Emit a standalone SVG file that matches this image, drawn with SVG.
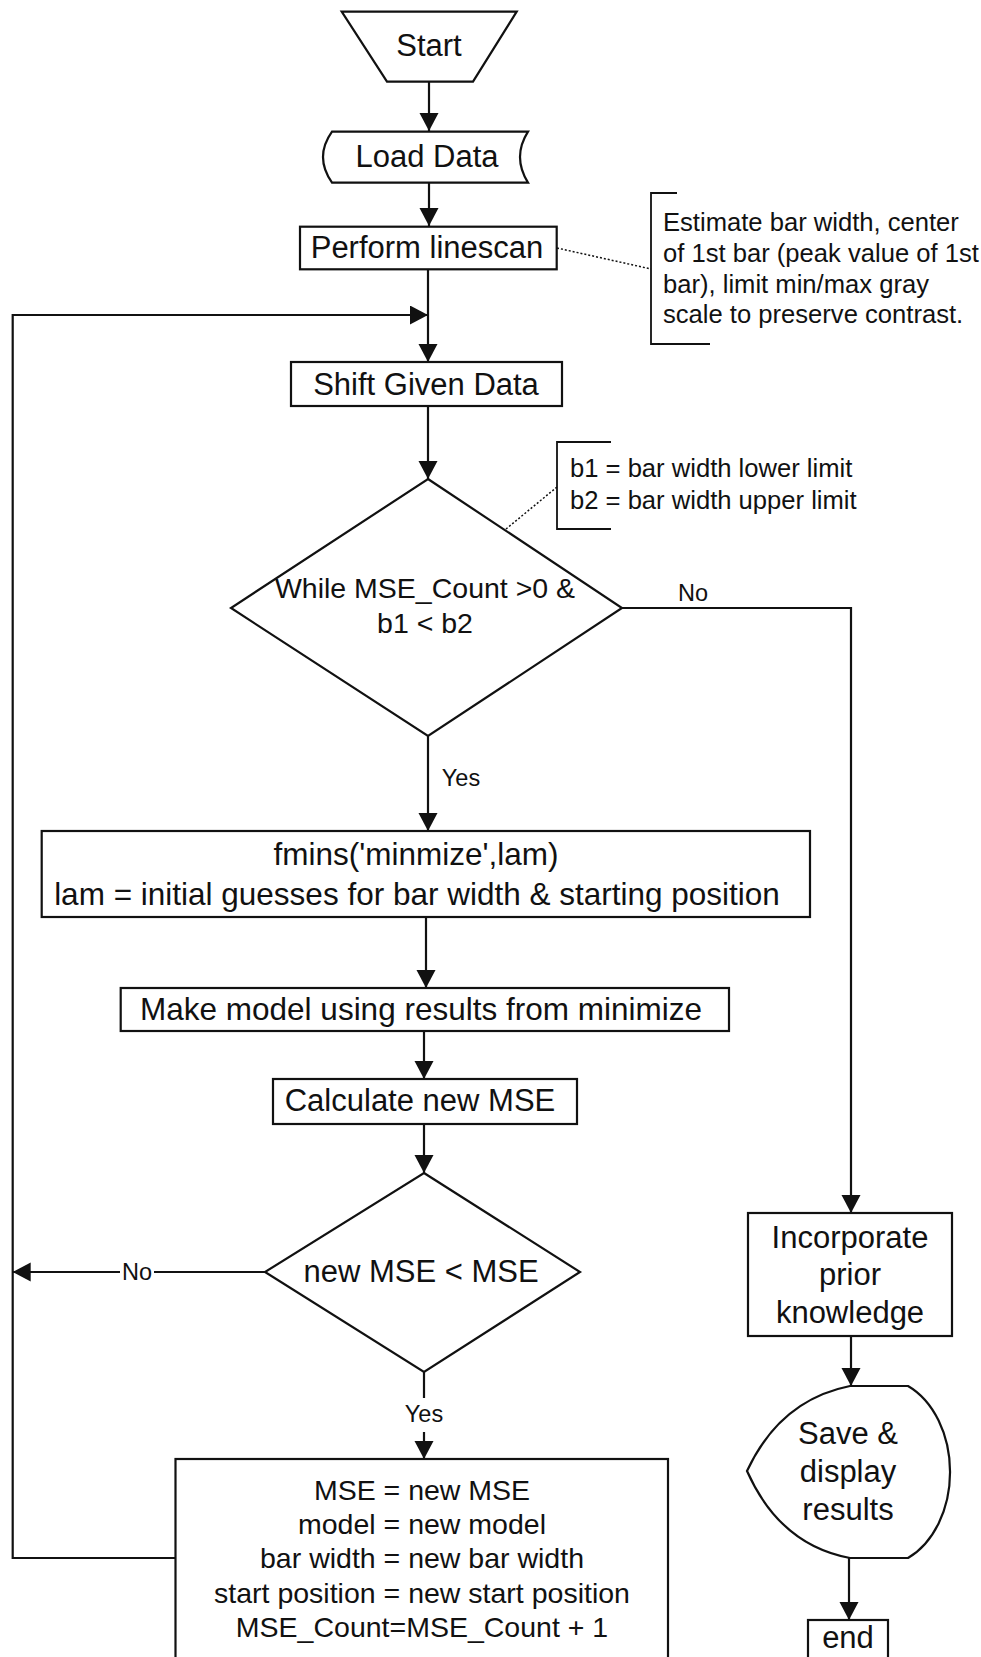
<svg xmlns="http://www.w3.org/2000/svg" width="981" height="1657" viewBox="0 0 981 1657">
  <defs>
    <marker id="arrow" markerUnits="userSpaceOnUse" markerWidth="20" markerHeight="20" refX="18" refY="9.5" orient="auto">
      <path d="M0,0 L18,9.5 L0,19 Z" fill="#111"/>
    </marker>
    <style>
      .shape { fill: #fff; stroke: #111; stroke-width: 2.2; }
      .edge { fill: none; stroke: #111; stroke-width: 2.2; }
      .note { fill: none; stroke: #111; stroke-width: 1.8; }
      .dots { fill: none; stroke: #111; stroke-width: 1.5; stroke-dasharray: 2 2; }
      text { font-family: "Liberation Sans", Arial, sans-serif; fill: #111; }
      .big { font-size: 31px; text-anchor: middle; }
      .mid { font-size: 28.5px; text-anchor: middle; }
      .small { font-size: 25.6px; }
      .lbl { font-size: 23.5px; text-anchor: middle; }
    </style>
  </defs>

  <rect width="981" height="1657" fill="#fff"/>

  <!-- connectors -->
  <g id="connectors">
    <path class="edge" d="M429,82 V131" marker-end="url(#arrow)"/>
    <path class="edge" d="M429,183 V226" marker-end="url(#arrow)"/>
    <path class="edge" d="M428,270 V362" marker-end="url(#arrow)"/>
    <path class="edge" d="M175,1558 H12.7 V315 H428" marker-end="url(#arrow)"/>
    <path class="edge" d="M428,406 V479" marker-end="url(#arrow)"/>
    <path class="edge" d="M428,736 V831" marker-end="url(#arrow)"/>
    <path class="edge" d="M622,608 H851 V1213" marker-end="url(#arrow)"/>
    <path class="edge" d="M426,917 V988" marker-end="url(#arrow)"/>
    <path class="edge" d="M424,1031 V1079" marker-end="url(#arrow)"/>
    <path class="edge" d="M424,1124 V1173" marker-end="url(#arrow)"/>
    <path class="edge" d="M265,1272 H154"/>
    <path class="edge" d="M120,1272 H12.7" marker-end="url(#arrow)"/>
    <path class="edge" d="M424,1372 V1398"/>
    <path class="edge" d="M424,1432 V1459" marker-end="url(#arrow)"/>
    <path class="edge" d="M851,1336 V1386" marker-end="url(#arrow)"/>
    <path class="edge" d="M849,1558 V1620" marker-end="url(#arrow)"/>
    <text class="lbl" x="693" y="601">No</text>
    <text class="lbl" x="461" y="786">Yes</text>
    <text class="lbl" x="137" y="1280">No</text>
    <text class="lbl" x="424" y="1422">Yes</text>
  </g>

  <g id="start">
    <polygon class="shape" points="341.7,11.7 516.7,11.7 473,81.7 387,81.7"/>
    <text class="big" x="429" y="56">Start</text>
  </g>

  <g id="load-data">
    <path class="shape" d="M332,131.7 H528 Q512,157 528,182.7 H332 Q314,157 332,131.7 Z"/>
    <text class="big" x="427" y="167">Load Data</text>
  </g>

  <g id="linescan">
    <rect class="shape" x="300" y="226.7" width="256.7" height="42.6"/>
    <text class="big" x="427" y="258">Perform linescan</text>
  </g>

  <g id="linescan-note">
    <path class="dots" d="M557,248 L651,269"/>
    <path class="note" d="M677,193 H651 V344 H710"/>
    <text class="small" x="663" y="231">Estimate bar width, center</text>
    <text class="small" x="663" y="262">of 1st bar (peak value of 1st</text>
    <text class="small" x="663" y="293">bar), limit min/max gray</text>
    <text class="small" x="663" y="323">scale to preserve contrast.</text>
  </g>

  <g id="shift">
    <rect class="shape" x="291" y="362" width="271" height="44"/>
    <text class="big" x="426" y="395">Shift Given Data</text>
  </g>

  <g id="while">
    <polygon class="shape" points="428,479 622,608 428,736 231,608"/>
    <text class="mid" x="425" y="598">While MSE_Count &gt;0 &amp;</text>
    <text class="mid" x="425" y="633">b1 &lt; b2</text>
  </g>

  <g id="limits-note">
    <path class="dots" d="M506,529 L557,487"/>
    <path class="note" d="M611,442 H557 V529 H611"/>
    <text class="small" x="570" y="477">b1 = bar width lower limit</text>
    <text class="small" x="570" y="509">b2 = bar width upper limit</text>
  </g>

  <g id="fmins">
    <rect class="shape" x="41.7" y="831" width="768.3" height="86"/>
    <text class="big" x="416" y="865" style="font-size:31.5px">fmins('minmize',lam)</text>
    <text class="big" x="417" y="905" style="font-size:31.5px">lam = initial guesses for bar width &amp; starting position</text>
  </g>

  <g id="make-model">
    <rect class="shape" x="120.7" y="988" width="608.3" height="43"/>
    <text class="big" x="421" y="1020" style="font-size:31.5px">Make model using results from minimize</text>
  </g>

  <g id="calc-mse">
    <rect class="shape" x="273" y="1079" width="304" height="45"/>
    <text class="big" x="420" y="1111">Calculate new MSE</text>
  </g>

  <g id="compare">
    <polygon class="shape" points="424,1173 580,1272 424,1372 265,1272"/>
    <text class="big" x="421" y="1282">new MSE &lt; MSE</text>
  </g>

  <g id="update">
    <rect class="shape" x="175.5" y="1459" width="492.5" height="230"/>
    <text class="mid" x="422" y="1500">MSE = new MSE</text>
    <text class="mid" x="422" y="1534">model = new model</text>
    <text class="mid" x="422" y="1568">bar width = new bar width</text>
    <text class="mid" x="422" y="1603">start position = new start position</text>
    <text class="mid" x="422" y="1637">MSE_Count=MSE_Count + 1</text>
  </g>

  <g id="prior">
    <rect class="shape" x="748" y="1213" width="204" height="123"/>
    <text class="big" x="850" y="1248">Incorporate</text>
    <text class="big" x="850" y="1285">prior</text>
    <text class="big" x="850" y="1323">knowledge</text>
  </g>

  <g id="display">
    <path class="shape" d="M850,1386 H908 A70,93.8 0 0 1 908,1558 H850 Q780,1545 747,1471 Q780,1400 850,1386 Z"/>
    <text class="big" x="848" y="1444">Save &amp;</text>
    <text class="big" x="848" y="1482">display</text>
    <text class="big" x="848" y="1520">results</text>
  </g>

  <g id="end">
    <rect class="shape" x="808" y="1620" width="80" height="60"/>
    <text class="big" x="848" y="1648">end</text>
  </g>
</svg>
